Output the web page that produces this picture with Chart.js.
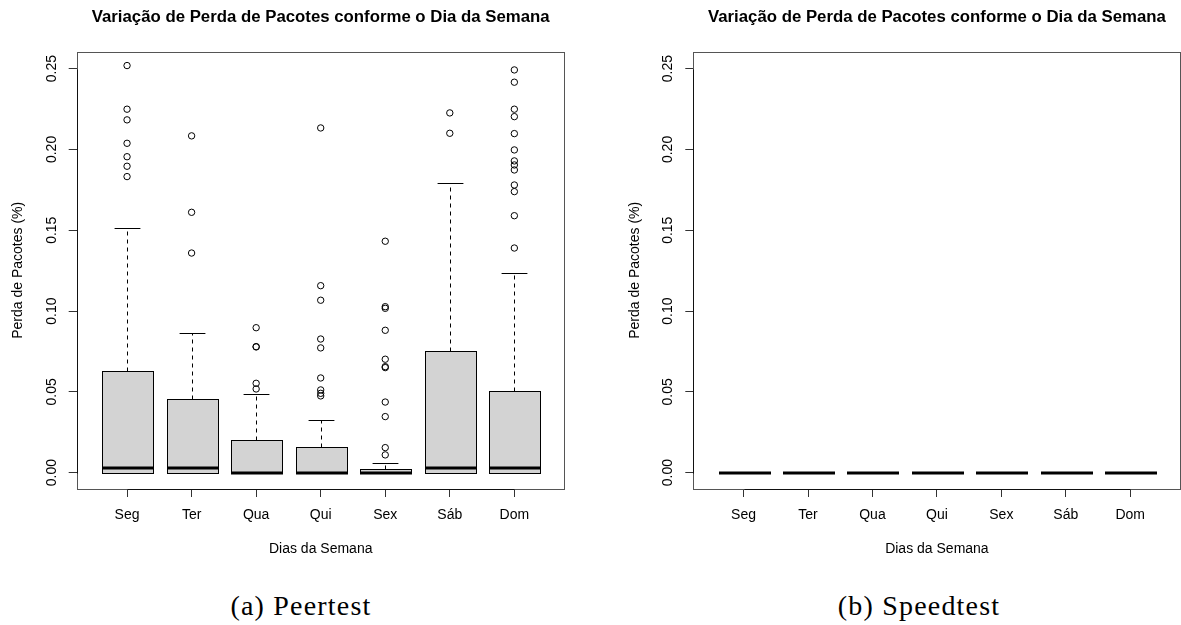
<!DOCTYPE html>
<html>
<head>
<meta charset="utf-8">
<script src="https://cdn.jsdelivr.net/npm/chart.js@4.4.1/dist/chart.umd.min.js"></script>
<style>
  html, body { margin: 0; padding: 0; background: #fff; overflow: hidden; }
  body { width: 1181px; height: 625px; position: relative; }
  canvas { position: absolute; top: 0; }
  #chart-peer { left: 0; }
  #chart-speed { left: 600px; }
  .caption {
    position: absolute; top: 589px; line-height: 34px;
    font-family: 'Liberation Serif', 'Times New Roman', serif; font-size: 28px;
    letter-spacing: 1.2px; color: #000; white-space: nowrap;
    transform: translateX(-50%);
  }
</style>
</head>
<body>
<canvas id="chart-peer" width="590" height="570"></canvas>
<canvas id="chart-speed" width="581" height="570"></canvas>
<div class="caption" style="left:301px">(a) Peertest</div>
<div class="caption" style="left:919px">(b) Speedtest</div>

<script>
// categories and axis ticks
const days = ['Seg', 'Ter', 'Qua', 'Qui', 'Sex', 'Sáb', 'Dom'];
const yTickValues = [0, 0.05, 0.10, 0.15, 0.20, 0.25];
const yRange = [-0.0101, 0.2605];   // R ylim with its 4% extension
const xRange = [0.22, 7.78];

// Peertest: box statistics per day
const peerLow    = [0, 0, 0, 0, 0, 0, 0];
const peerQ1     = [0, 0, 0, 0, 0, 0, 0];
const peerMedian = [0.0031, 0.0031, 0, 0, 0, 0.0031, 0.0031];
const peerQ3     = [0.0627, 0.0456, 0.0202, 0.0159, 0.0025, 0.0753, 0.0504];
const peerHigh   = [0.1513, 0.0862, 0.0485, 0.0324, 0.0058, 0.1791, 0.1238];
const peerOutliers = [
  [0.2519, 0.2249, 0.2183, 0.2038, 0.1955, 0.1896, 0.1832],
  [0.2084, 0.1611, 0.1359],
  [0.0897, 0.0780, 0.0778, 0.0553, 0.0518],
  [0.2133, 0.1157, 0.1067, 0.0827, 0.0772, 0.0586, 0.0512, 0.0491, 0.0475],
  [0.1432, 0.1027, 0.1017, 0.0881, 0.0702, 0.0656, 0.0650, 0.0437, 0.0347, 0.0155, 0.0110],
  [0.2226, 0.2100],
  [0.2492, 0.2416, 0.2249, 0.2203, 0.2098, 0.1997, 0.1929, 0.1904, 0.1873, 0.1780, 0.1739, 0.1590, 0.1390]
];

// Speedtest: everything sits at zero
const speedLow    = [0, 0, 0, 0, 0, 0, 0];
const speedQ1     = [0, 0, 0, 0, 0, 0, 0];
const speedMedian = [0, 0, 0, 0, 0, 0, 0];
const speedQ3     = [0, 0, 0, 0, 0, 0, 0];
const speedHigh   = [0, 0, 0, 0, 0, 0, 0];
const speedOutliers = [[], [], [], [], [], [], []];

const FONT = 'Liberation Sans, Arial, Helvetica, sans-serif';
const TITLE = 'Variação de Perda de Pacotes conforme o Dia da Semana';

const crisp = v => Math.round(v) + 0.5;

function line(ctx, x1, y1, x2, y2) {
  ctx.beginPath();
  ctx.moveTo(x1, y1);
  ctx.lineTo(x2, y2);
  ctx.stroke();
}

// draws whiskers, staples, boxes and medians from the scales, then the frame
const boxplotPlugin = {
  id: 'boxplot',
  beforeDatasetsDraw(chart, args, o) {
    const { ctx } = chart;
    const xs = chart.scales.x, ys = chart.scales.y;
    const half = xs.getPixelForValue(1.4) - xs.getPixelForValue(1);
    const staple = half / 2;
    const py = v => ys.getPixelForValue(v);
    ctx.save();
    ctx.strokeStyle = '#000';
    ctx.lineCap = 'butt';
    o.median.forEach((med, i) => {
      const cx = crisp(xs.getPixelForValue(i + 1));
      ctx.lineWidth = 1;
      ctx.setLineDash([4, 4]);
      line(ctx, cx, crisp(py(o.q3[i])), cx, crisp(py(o.high[i])));
      line(ctx, cx, crisp(py(o.q1[i])), cx, crisp(py(o.low[i])));
      ctx.setLineDash([]);
      line(ctx, cx - staple, crisp(py(o.high[i])), cx + staple, crisp(py(o.high[i])));
      line(ctx, cx - staple, crisp(py(o.low[i])), cx + staple, crisp(py(o.low[i])));

      const x0 = crisp(cx - half), x1 = crisp(cx + half);
      const yTop = crisp(py(o.q3[i])), yBot = crisp(py(o.q1[i]));
      ctx.fillStyle = '#D3D3D3';
      ctx.fillRect(x0, yTop, x1 - x0, yBot - yTop);
      ctx.strokeRect(x0, yTop, x1 - x0, yBot - yTop);

      ctx.lineWidth = 3;
      const ym = Math.round(py(med));
      line(ctx, x0 - 0.5, ym, x1 + 0.5, ym);
    });
    ctx.restore();
  },
  afterDraw(chart) {
    const { ctx, chartArea: a } = chart;
    const xs = chart.scales.x, ys = chart.scales.y;
    ctx.save();
    ctx.lineWidth = 1;
    ctx.strokeStyle = '#555';
    const l = crisp(a.left), t = crisp(a.top), r = crisp(a.right) - 1, b = crisp(a.bottom);
    ctx.strokeRect(l, t, r - l, b - t);
    // R draws the axis lines only between first and last tick
    ctx.strokeStyle = '#111';
    line(ctx, l, crisp(ys.getPixelForValue(yTickValues[0])), l, crisp(ys.getPixelForValue(yTickValues[yTickValues.length - 1])));
    line(ctx, crisp(xs.getPixelForValue(1)), b, crisp(xs.getPixelForValue(days.length)), b);
    ctx.restore();
  }
};

function makePanel(canvasId, stats, layout) {
  const points = stats.outliers.flatMap((arr, i) => arr.map(v => ({ x: i + 1, y: v })));
  const tickFont = { family: FONT, size: 14 };

  return new Chart(document.getElementById(canvasId), {
    type: 'scatter',
    data: {
      datasets: [{
        data: points,
        pointRadius: 3.2,
        pointHoverRadius: 3.2,
        pointBorderWidth: 1,
        pointBorderColor: '#000',
        pointBackgroundColor: 'rgba(0,0,0,0)'
      }]
    },
    options: {
      responsive: false,
      devicePixelRatio: 1,
      animation: false,
      events: [],
      layout: { padding: { left: 0, right: layout.padRight, top: 0, bottom: 0 } },
      plugins: {
        legend: { display: false },
        tooltip: { enabled: false },
        title: {
          display: true,
          text: TITLE,
          fullSize: false,
          color: '#000',
          font: { family: FONT, size: 16.8, weight: 'bold' },
          padding: { top: 6.9, bottom: 24.6 }
        },
        boxplot: {
          low: stats.low, q1: stats.q1, median: stats.median, q3: stats.q3, high: stats.high
        }
      },
      scales: {
        x: {
          type: 'linear',
          min: xRange[0],
          max: xRange[1],
          afterBuildTicks: s => { s.ticks = days.map((d, i) => ({ value: i + 1 })); },
          afterFit: s => { s.height = 81; },
          ticks: {
            autoSkip: false,
            maxRotation: 0,
            padding: 9.6,
            color: '#000',
            font: tickFont,
            callback: v => days[Math.round(v) - 1]
          },
          grid: { drawOnChartArea: false, drawTicks: true, tickLength: 8, color: '#333' },
          border: { display: false },
          title: {
            display: true, text: 'Dias da Semana', color: '#000', font: tickFont,
            padding: { top: 0, bottom: 12.6 }
          }
        },
        y: {
          type: 'linear',
          min: yRange[0],
          max: yRange[1],
          afterBuildTicks: s => { s.ticks = yTickValues.map(v => ({ value: v })); },
          afterFit: s => { s.width = layout.yWidth; },
          ticks: {
            minRotation: 90,
            maxRotation: 90,
            crossAlign: 'center',
            padding: 3.4,
            color: '#000',
            font: tickFont,
            callback: v => v.toFixed(2)
          },
          grid: { drawOnChartArea: false, drawTicks: true, tickLength: 8, color: '#333' },
          border: { display: false },
          title: {
            display: true, text: 'Perda de Pacotes (%)', color: '#000', font: tickFont,
            padding: { top: layout.yTitlePad, bottom: 0 }
          }
        }
      }
    },
    plugins: [boxplotPlugin]
  });
}

makePanel('chart-peer', {
  low: peerLow, q1: peerQ1, median: peerMedian, q3: peerQ3, high: peerHigh, outliers: peerOutliers
}, { padRight: 25.3, yWidth: 76.7, yTitlePad: 9.9 });

makePanel('chart-speed', {
  low: speedLow, q1: speedQ1, median: speedMedian, q3: speedQ3, high: speedHigh, outliers: speedOutliers
}, { padRight: 0.5, yWidth: 93.3, yTitlePad: 26.5 });
</script>
</body>
</html>
